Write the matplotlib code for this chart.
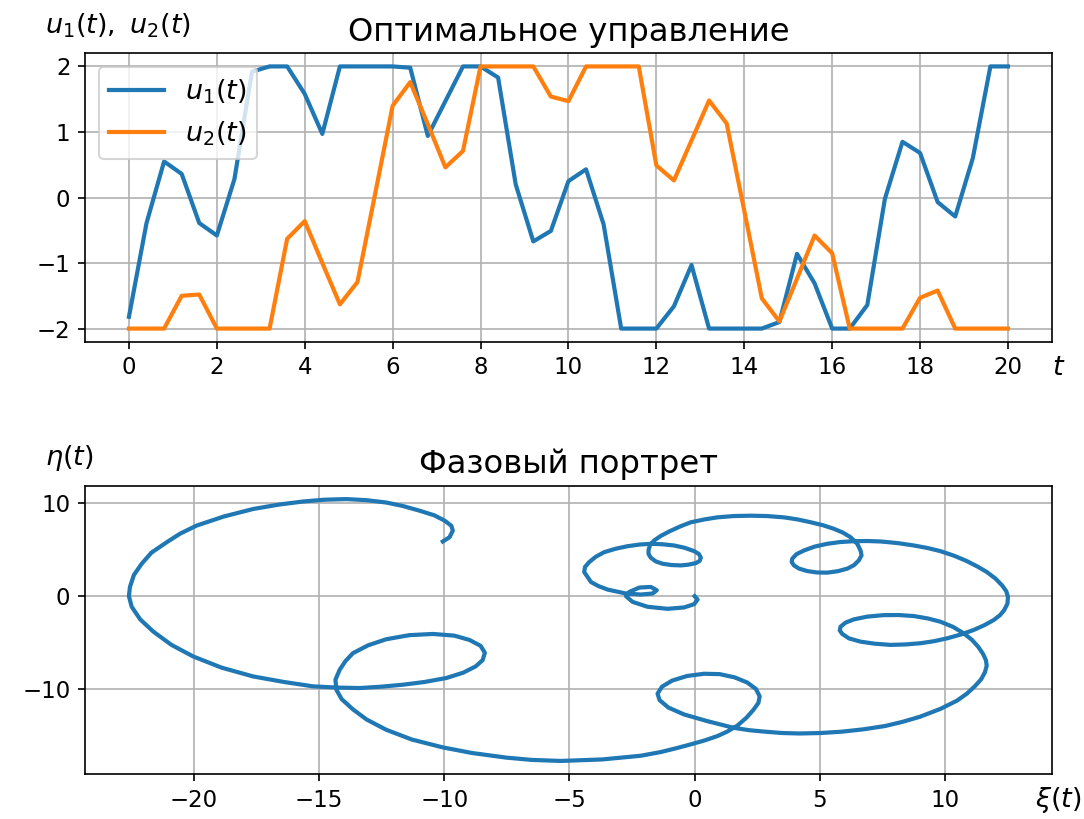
import numpy as np
import matplotlib
matplotlib.use("Agg")
import matplotlib.pyplot as plt

# control grid and the two optimal controls
t = np.linspace(0, 20, 51)
u1 = [-1.82, -0.39, 0.55, 0.36, -0.39, -0.58, 0.28, 1.92, 2.0, 2.0,
      1.58, 0.97, 2.0, 2.0, 2.0, 2.0, 1.98, 0.94, 1.47, 2.0,
      2.0, 1.83, 0.2, -0.67, -0.51, 0.25, 0.43, -0.41, -2.0, -2.0,
      -2.0, -1.66, -1.03, -2.0, -2.0, -2.0, -2.0, -1.9, -0.86, -1.31,
      -2.0, -2.0, -1.64, -0.02, 0.85, 0.68, -0.07, -0.29, 0.6, 2.0,
      2.0]
u2 = [-2.0, -2.0, -2.0, -1.5, -1.48, -2.0, -2.0, -2.0, -2.0, -0.63,
      -0.36, -1.0, -1.63, -1.29, 0.05, 1.4, 1.76, 1.12, 0.46, 0.71,
      2.0, 2.0, 2.0, 2.0, 1.54, 1.47, 2.0, 2.0, 2.0, 2.0,
      0.49, 0.26, 0.87, 1.48, 1.13, -0.2, -1.54, -1.89, -1.24, -0.58,
      -0.85, -2.0, -2.0, -2.0, -2.0, -1.53, -1.42, -2.0, -2.0, -2.0,
      -2.0]

# phase trajectory, listed as (xi, eta) pairs from the start at the origin
traj = [
    (0.0, 0.0), (0.12, -0.36), (-0.02, -0.86), (-0.42, -1.21), (-1.08, -1.36),
    (-1.88, -1.14), (-2.48, -0.61), (-2.74, 0.0), (-2.61, 0.46), (-2.21, 0.93),
    (-1.75, 1.0), (-1.51, 0.64), (-1.68, 0.29), (-2.15, 0.18), (-2.74, 0.29),
    (-3.47, 0.71), (-3.85, 1.1), (-4.14, 1.53), (-4.41, 2.6), (-4.38, 3.15),
    (-4.21, 3.68), (-3.95, 4.25), (-3.61, 4.75), (-3.15, 5.12), (-2.68, 5.39),
    (-2.2, 5.57), (-1.75, 5.65), (-1.28, 5.6), (-0.82, 5.47), (-0.4, 5.22),
    (-0.02, 4.86), (0.17, 4.55), (0.25, 4.15), (0.2, 3.8), (0.05, 3.57),
    (-0.25, 3.4), (-0.55, 3.32), (-0.92, 3.36), (-1.28, 3.5), (-1.55, 3.75),
    (-1.75, 4.15), (-1.84, 4.55), (-1.84, 5.0), (-1.78, 5.5), (-1.62, 6.0),
    (-1.35, 6.5), (-1.0, 7.0), (-0.55, 7.55), (-0.15, 7.97), (0.4, 8.28),
    (0.91, 8.5), (1.55, 8.64), (2.24, 8.68), (2.9, 8.64), (3.57, 8.5),
    (4.13, 8.27), (4.64, 7.97), (5.13, 7.65), (5.57, 7.26), (5.93, 6.85),
    (6.23, 6.36), (6.5, 5.65), (6.63, 4.93), (6.67, 4.4), (6.56, 3.86),
    (6.37, 3.35), (6.1, 2.97), (5.73, 2.7), (5.3, 2.54), (4.88, 2.56),
    (4.5, 2.71), (4.17, 2.98), (3.97, 3.32), (3.88, 3.68), (3.9, 4.04),
    (4.07, 4.53), (4.37, 4.93), (4.8, 5.35), (5.3, 5.65), (5.82, 5.84),
    (6.36, 5.93), (6.9, 5.95), (7.43, 5.9), (8.1, 5.73), (8.76, 5.47),
    (9.3, 5.2), (9.82, 4.86), (10.38, 4.35), (10.88, 3.78), (11.3, 3.2),
    (11.68, 2.6), (12.02, 1.9), (12.28, 1.18), (12.45, 0.55), (12.52, -0.07),
    (12.5, -0.8), (12.37, -1.5), (12.2, -2.05), (11.95, -2.57), (11.58, -3.12),
    (11.15, -3.64), (10.65, -4.12), (10.09, -4.54), (9.57, -4.85), (9.02, -5.07),
    (8.43, -5.2), (7.83, -5.25), (7.2, -5.12), (6.63, -4.9), (6.17, -4.55),
    (5.9, -4.07), (5.8, -3.7), (5.83, -3.29), (6.03, -2.85), (6.36, -2.5),
    (6.9, -2.2), (7.56, -2.04), (8.15, -2.03), (8.76, -2.14), (9.32, -2.4),
    (9.82, -2.75), (10.32, -3.3), (10.75, -4.0), (11.08, -4.7), (11.33, -5.45),
    (11.52, -6.2), (11.64, -6.9), (11.67, -7.5), (11.6, -8.2), (11.45, -8.95),
    (11.2, -9.7), (10.88, -10.5), (10.49, -11.25), (9.82, -12.15), (9.0, -13.0),
    (8.3, -13.55), (7.6, -14.0), (6.75, -14.35), (5.9, -14.6), (5.05, -14.75),
    (4.2, -14.8), (3.5, -14.75), (2.8, -14.6), (2.2, -14.45), (1.58, -14.2),
    (0.51, -13.47), (-0.42, -12.75), (-1.05, -12.0), (-1.4, -11.2), (-1.48, -10.5),
    (-1.3, -9.75), (-0.9, -9.1), (-0.3, -8.6), (0.38, -8.36), (1.0, -8.4),
    (1.6, -8.75), (2.1, -9.3), (2.45, -10.0), (2.6, -10.8), (2.55, -11.5),
    (2.35, -12.25), (2.07, -13.1), (1.71, -13.95), (1.3, -14.6), (0.91, -15.08),
    (0.4, -15.55), (-0.15, -15.97), (-0.75, -16.4), (-1.35, -16.8), (-2.15, -17.2),
    (-3.7, -17.6), (-5.34, -17.76), (-6.5, -17.65), (-7.53, -17.4), (-8.9, -16.9),
    (-10.06, -16.3), (-11.3, -15.45), (-12.32, -14.4), (-13.1, -13.3), (-13.65, -12.2),
    (-14.1, -11.1), (-14.31, -10.1), (-14.35, -9.0), (-14.18, -7.93), (-13.95, -7.0),
    (-13.65, -6.14), (-13.05, -5.3), (-12.32, -4.64), (-11.4, -4.2), (-10.46, -4.07),
    (-9.6, -4.25), (-8.99, -4.72), (-8.55, -5.35), (-8.38, -6.1), (-8.47, -6.9),
    (-8.75, -7.57), (-9.25, -8.25), (-9.92, -8.82), (-10.8, -9.25), (-11.65, -9.54),
    (-12.5, -9.75), (-13.38, -9.9), (-14.3, -9.85), (-15.24, -9.72), (-16.4, -9.25),
    (-17.64, -8.65), (-18.9, -7.7), (-20.03, -6.5), (-20.9, -5.25), (-21.62, -3.83),
    (-22.15, -2.5), (-22.49, -1.14), (-22.6, 0.0), (-22.56, 1.0), (-22.4, 2.3),
    (-22.09, 3.5), (-21.7, 4.7), (-21.09, 5.82), (-20.55, 6.75), (-19.9, 7.61),
    (-18.8, 8.6), (-17.64, 9.4), (-16.6, 9.88), (-15.64, 10.21), (-14.8, 10.4),
    (-13.91, 10.47), (-13.1, 10.35), (-12.32, 10.1), (-11.65, 9.72), (-10.99, 9.22),
    (-10.4, 8.72), (-9.99, 8.15), (-9.72, 7.6), (-9.66, 7.07), (-9.79, 6.36),
    (-10.06, 5.9),
]
xi = [p[0] for p in traj]
eta = [p[1] for p in traj]

plt.rcParams['font.family'] = ['DejaVu Sans']
plt.rcParams['xtick.labelsize'] = 11
plt.rcParams['ytick.labelsize'] = 11
fig = plt.figure(figsize=(10.84 / 1.5, 8.19 / 1.5), dpi=150)

ax1 = fig.add_axes([0.0784, 0.5828, 0.892, 0.3521])
ax1.plot(t, u1, lw=2, label=r'$u_1(t)$')
ax1.plot(t, u2, lw=2, label=r'$u_2(t)$')
ax1.set_xticks(np.arange(0, 21, 2))
ax1.set_yticks([-2, -1, 0, 1, 2])
ax1.grid(True)
ax1.legend(loc='upper left', fontsize=13)
ax1.set_title('Оптимальное управление', fontsize=15.5)
ax1.text(-0.0414, 1.095, r'$u_1(t),\ u_2(t)$', transform=ax1.transAxes,
         ha='left', va='center', fontsize=13)
ax1.text(1.0, -0.091, r'$t$', transform=ax1.transAxes,
         ha='left', va='center', fontsize=13)

ax2 = fig.add_axes([0.0784, 0.0549, 0.892, 0.3517])
ax2.plot(xi, eta, lw=2, solid_joinstyle='round')
ax2.grid(True)
ax2.set_title('Фазовый портрет', fontsize=15.5)
ax2.text(-0.0414, 1.097, r'$\eta(t)$', transform=ax2.transAxes,
         ha='left', va='center', fontsize=13)
ax2.text(0.983, -0.09, r'$\xi(t)$', transform=ax2.transAxes,
         ha='left', va='center', fontsize=13)

fig.savefig('out.png', dpi=150)
